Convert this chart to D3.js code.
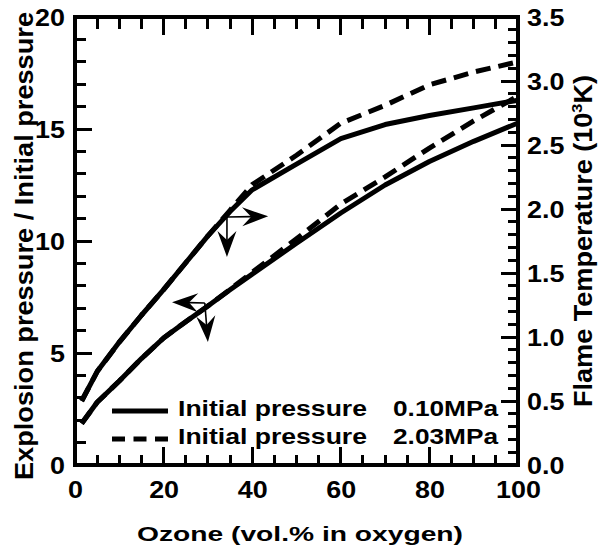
<!DOCTYPE html>
<html><head><meta charset="utf-8">
<script src="https://cdn.jsdelivr.net/npm/d3@7"></script>
</head><body style="margin:0;background:#fff">
<div id="wrap" style="position:relative;width:608px;height:548px">
<svg id="c" width="608" height="548" style="display:block;position:absolute;left:0;top:0"></svg>
<div id="ticks" style="position:absolute;left:0;top:0;width:608px;height:548px"></div>
</div>
<script>
// ---- data ----
const ozone       = [1.5, 5, 10, 15, 20, 25, 30, 35, 40, 50, 60, 70, 80, 90, 100];
const press010    = [1.85, 2.8, 3.75, 4.75, 5.67, 6.4, 7.1, 7.82, 8.52, 9.9, 11.25, 12.5, 13.55, 14.45, 15.27];
const press203    = [1.85, 2.8, 3.75, 4.75, 5.67, 6.4, 7.1, 7.84, 8.6, 10.1, 11.65, 12.86, 14.15, 15.36, 16.47];
const temp010     = [0.5, 0.73, 0.96, 1.17, 1.37, 1.58, 1.79, 1.98, 2.15, 2.35, 2.55, 2.66, 2.73, 2.79, 2.85];
const temp203     = [0.5, 0.73, 0.96, 1.17, 1.37, 1.58, 1.79, 1.99, 2.19, 2.42, 2.67, 2.81, 2.97, 3.07, 3.15];
const xTicks      = [0, 20, 40, 60, 80, 100];
const xMinor      = [5, 10, 15, 25, 30, 35, 45, 50, 55, 65, 70, 75, 85, 90, 95];
const pTicks      = [0, 5, 10, 15, 20];
const pMinor      = [1, 2, 3, 4, 6, 7, 8, 9, 11, 12, 13, 14, 16, 17, 18, 19];
const tTicks      = [0, 0.5, 1.0, 1.5, 2.0, 2.5, 3.0, 3.5];
const tMinor      = [0.1, 0.2, 0.3, 0.4, 0.6, 0.7, 0.8, 0.9, 1.1, 1.2, 1.3, 1.4, 1.6, 1.7, 1.8, 1.9,
                     2.1, 2.2, 2.3, 2.4, 2.6, 2.7, 2.8, 2.9, 3.1, 3.2, 3.3, 3.4];
const legendLabels = ["Initial pressure", "Initial pressure"];
const legendValues = ["0.10MPa", "2.03MPa"];
// annotation arrows (data coords: ozone, explosion-pressure axis)
const arrowCorner = [[34.3, 11.07], [29.3, 7.23]];
const arrowHoriz  = [[43.6, 11.1], [21.9, 7.27]];
const arrowVert   = [[34.3, 9.29], [30.0, 5.49]];

// ---- layout ----
const L = 75, R = 518, T = 17, B = 465;
const FONT = '"Liberation Sans",Arial,Helvetica,sans-serif';
const svg = d3.select("#c");
const root = svg.append("g").attr("font-family", FONT).attr("font-weight", "bold");
const x  = d3.scaleLinear().domain([0, 100]).range([L, R]);
const yP = d3.scaleLinear().domain([0, 20]).range([B, T]);
const yT = d3.scaleLinear().domain([0, 3.5]).range([B, T]);
const SX = 1.17;

// tick labels through d3 axes
function labels(g) {
  g.attr("font-family", FONT).attr("font-weight", "bold").attr("font-size", 23);
  g.select(".domain").remove();
  g.selectAll(".tick line").remove();
  g.selectAll(".tick text").attr("fill", "#000")
    .each(function () {
      const t = d3.select(this);
      const xv = +t.attr("x") || 0;
      t.attr("x", xv / SX).attr("transform", `scale(${SX},1)`);
    });
}
const gl = root.append("g").attr("transform", `translate(${L},0)`)
  .call(d3.axisLeft(yP).tickValues(pTicks).tickSize(0).tickPadding(10).tickFormat(d3.format("d")));
gl.selectAll(".tick text").attr("dy", "0.36em"); labels(gl);
const gr = root.append("g").attr("transform", `translate(${R},0)`)
  .call(d3.axisRight(yT).tickValues(tTicks).tickSize(0).tickPadding(9).tickFormat(d3.format(".1f")));
gr.selectAll(".tick text").attr("dy", "0.36em"); labels(gr);
const gb = root.append("g").attr("transform", `translate(0,${B})`)
  .call(d3.axisBottom(x).tickValues(xTicks).tickSize(0).tickPadding(17).tickFormat(d3.format("d")));
labels(gb);

// curves
const lineP = d3.line().x((d, i) => x(ozone[i])).y(d => yP(d));
const lineT = d3.line().x((d, i) => x(ozone[i])).y(d => yT(d));
const DASH = "15,8";
function curve(data, gen, dashed) {
  root.append("path").attr("d", gen(data)).attr("fill", "none")
    .attr("style", "stroke:#000;stroke-width:5px;stroke-linejoin:round" + (dashed ? ";stroke-dasharray:" + DASH : ""));
}
curve(press010, lineP, false);
curve(temp010, lineT, false);
curve(press203, lineP, true);
curve(temp203, lineT, true);

// arrows
function arrow(p0, p1) {
  const [x0, y0] = [x(p0[0]), yP(p0[1])];
  const [x1, y1] = [x(p1[0]), yP(p1[1])];
  const len = Math.hypot(x1 - x0, y1 - y0);
  const dx = (x1 - x0) / len, dy = (y1 - y0) / len;
  const nx = -dy, ny = dx;
  const Lh = 26, Wh = 9.5, Nh = 17;
  root.append("path").attr("d", `M${x0},${y0}L${x1 - dx * Nh},${y1 - dy * Nh}`)
    .attr("fill", "none").attr("style", "stroke:#000;stroke-width:1.6px");
  const pts = [
    [x1, y1],
    [x1 - dx * Lh + nx * Wh, y1 - dy * Lh + ny * Wh],
    [x1 - dx * Nh, y1 - dy * Nh],
    [x1 - dx * Lh - nx * Wh, y1 - dy * Lh - ny * Wh]
  ];
  root.append("path").attr("d", "M" + pts.map(p => p.join(",")).join("L") + "Z").attr("fill", "#000");
}
arrowCorner.forEach((c, i) => { arrow(c, arrowHoriz[i]); arrow(c, arrowVert[i]); });

// legend
const legY = [411, 439];
const txtY = [416, 444];
legendLabels.forEach((lab, i) => {
  root.append("path").attr("d", `M112,${legY[i]}H168`).attr("fill", "none")
    .attr("style", "stroke:#000;stroke-width:5px" + (i === 1 ? ";stroke-dasharray:13,8.5" : ""));
  root.append("text").attr("x", 178).attr("y", txtY[i]).attr("font-size", 22).attr("fill", "#000")
    .attr("textLength", 189).attr("lengthAdjust", "spacingAndGlyphs").text(lab);
  root.append("text").attr("x", 393).attr("y", txtY[i]).attr("font-size", 22).attr("fill", "#000")
    .attr("textLength", 105).attr("lengthAdjust", "spacingAndGlyphs").text(legendValues[i]);
});

// titles
root.append("text").attr("x", 137).attr("y", 541).attr("font-size", 20).attr("fill", "#000")
  .attr("textLength", 326).attr("lengthAdjust", "spacingAndGlyphs").text("Ozone (vol.% in oxygen)");
root.append("text").attr("transform", "translate(33,480) rotate(-90)").attr("font-size", 25).attr("fill", "#000")
  .attr("textLength", 468).attr("lengthAdjust", "spacingAndGlyphs")
  .text("Explosion pressure / Initial pressure");
const rt = root.append("text").attr("transform", "translate(592,407) rotate(-90)").attr("font-size", 25)
  .attr("fill", "#000").attr("textLength", 332).attr("lengthAdjust", "spacingAndGlyphs");
rt.append("tspan").text("Flame Temperature (10");
rt.append("tspan").attr("font-size", 15).attr("dy", -10).text("3");
rt.append("tspan").attr("dy", 10).text("K)");

// frame
root.append("path").attr("d", `M${L},${T}H${R}V${B}H${L}Z`).attr("fill", "none")
  .attr("style", "stroke:#000;stroke-width:4px");

// tick marks: HTML overlay blocks positioned from the scales
const MAJ = 17, MIN = 10.5, TW = 3;
const tk = d3.select("#ticks");
function block(left, top, w, h) {
  tk.append("div").style("position", "absolute").style("left", left + "px").style("top", top + "px")
    .style("width", w + "px").style("height", h + "px").style("background", "#000");
}
function hTicks(vals, scale, x0, len) {
  vals.forEach(v => block(len > 0 ? x0 : x0 + len, scale(v) - TW / 2, Math.abs(len), TW));
}
function vTicks(vals, scale, y0, len) {
  vals.forEach(v => block(scale(v) - TW / 2, len > 0 ? y0 : y0 + len, TW, Math.abs(len)));
}
hTicks(pTicks, yP, L, MAJ);  hTicks(pMinor, yP, L, MIN);
hTicks(tTicks, yT, R, -MAJ); hTicks(tMinor, yT, R, -MIN);
vTicks(xTicks, x, B, -MAJ - 1); vTicks(xMinor, x, B, -MIN);
vTicks(xTicks, x, T, MAJ + 1);  vTicks(xMinor, x, T, MIN + 1);
</script></body></html>
